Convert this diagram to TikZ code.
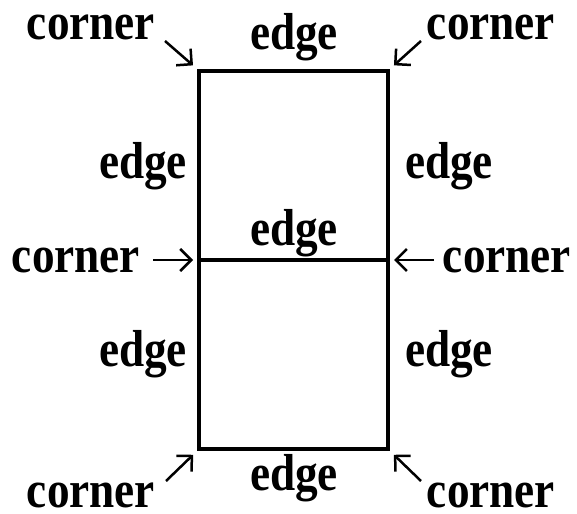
\documentclass[tikz,border=0pt]{standalone}
\usepackage{fontspec}
\newfontfamily\labelfont[FakeStretch=0.87]{Liberation Serif}
\usetikzlibrary{
  arrows.meta, % for arrow tips
  calc}
\tikzset{
  label text/.style={
    font=\labelfont\fontsize{52}{52}\selectfont\bfseries, inner sep=0pt, anchor=base},
  box line/.style={line width=4pt},
  pointer/.style={line width=2.5pt, -{Straight Barb[length=11pt, width=22pt, line width=2.5pt]}}
}

\begin{document}
\begin{tikzpicture}[x=1pt, y=-1pt]
\useasboundingbox (0,0) rectangle (577,513);

% the two squares
\coordinate (tl) at (199,71);  \coordinate (tr) at (388,71);
\coordinate (ml) at (199,260); \coordinate (mr) at (388,260);
\coordinate (bl) at (199,449); \coordinate (br) at (388,449);
\draw[box line] (tl) rectangle (br) (ml) -- (mr);

% edge labels
\node[label text] (e-top)  at (294,50)  {edge};
\node[label text] (e-lu)   at (143,178) {edge};
\node[label text] (e-ru)   at (449,178) {edge};
\node[label text] (e-mid)  at (294,245) {edge};
\node[label text] (e-ll)   at (143,366) {edge};
\node[label text] (e-rl)   at (449,366) {edge};
\node[label text] (e-bot)  at (294,490) {edge};

% corner labels
\node[label text] (c-tl) at (91,40)   {corner};
\node[label text] (c-tr) at (491,40)  {corner};
\node[label text] (c-ml) at (76,272)  {corner};
\node[label text] (c-mr) at (507,272) {corner};
\node[label text] (c-bl) at (91,507)  {corner};
\node[label text] (c-br) at (491,507) {corner};

\coordinate (s-tl) at ($(tl)+(-34,-30)$);
\coordinate (s-tr) at ($(tr)+(33,-30)$);
\coordinate (s-ml) at ($(ml)+(-46,0)$);
\coordinate (s-mr) at ($(mr)+(46,0)$);
\coordinate (s-bl) at ($(bl)+(-33,32)$);
\coordinate (s-br) at ($(br)+(33,32)$);

\path[pointer, shorten >=4pt]
  (s-tl) edge ($(tl)+(-3,-3)$)
  (s-tr) edge ($(tr)+(3,-3)$)
  (s-ml) edge ($(ml)+(-2,0)$)
  (s-mr) edge ($(mr)+(2,0)$)
  (s-bl) edge ($(bl)+(-3,3)$)
  (s-br) edge ($(br)+(3,3)$);
\end{tikzpicture}
\end{document}
